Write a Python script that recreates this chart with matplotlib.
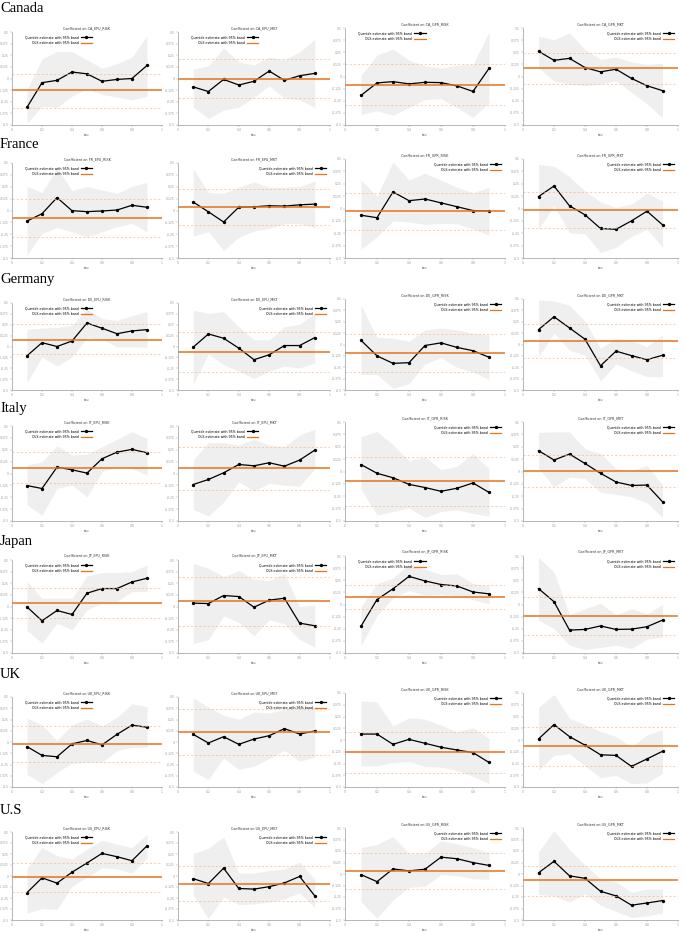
import numpy as np
import matplotlib.pyplot as plt

TAU = [0.1, 0.2, 0.3, 0.4, 0.5, 0.6, 0.7, 0.8, 0.9]
COUNTRIES = ["Canada", "France", "Germany", "Italy", "Japan", "UK", "U.S"]
CODES = ["CA", "FR", "DE", "IT", "JP", "UK", "US"]
REGRESSORS = ["EPU_RISK", "EPU_MKT", "GPR_RISK", "GPR_MKT"]

# quantile estimates, upper / lower 95% band, OLS (estimate, upper, lower)
CANADA_Q = [[-0.31, -0.045, -0.02, 0.07, 0.05, -0.03, -0.01, 0.0, 0.14],
            [-0.09, -0.14, -0.01, -0.07, -0.03, 0.08, -0.02, 0.03, 0.055],
            [-0.195, -0.066, -0.053, -0.076, -0.06, -0.063, -0.097, -0.154, 0.083],
            [0.26, 0.167, 0.187, 0.092, 0.048, 0.075, -0.02, -0.095, -0.146]]
CANADA_UP = [[-0.12, 0.21, 0.29, 0.29, 0.20, 0.11, 0.16, 0.23, 0.46],
             [0.10, 0.135, 0.33, 0.18, 0.145, 0.23, 0.20, 0.285, 0.42],
             [0.01, 0.22, 0.286, 0.168, 0.11, 0.086, 0.117, 0.127, 0.456],
             [0.415, 0.38, 0.45, 0.28, 0.177, 0.20, 0.15, 0.126, 0.136]]
CANADA_LO = [[-0.48, -0.30, -0.31, -0.19, -0.11, -0.17, -0.20, -0.23, -0.19],
             [-0.305, -0.43, -0.34, -0.31, -0.20, -0.08, -0.21, -0.23, -0.31],
             [-0.39, -0.354, -0.40, -0.32, -0.236, -0.23, -0.32, -0.422, -0.27],
             [0.09, -0.044, -0.08, -0.095, -0.08, -0.044, -0.163, -0.282, -0.425]]
CANADA_OLS = [(-0.125, 0.05, -0.315), (0.0, 0.21, -0.21), (-0.086, 0.127, -0.297), (0.085, 0.245, -0.08)]

FRANCE_Q = [[-0.111, -0.034, 0.136, -0.002, -0.012, -0.005, 0.005, 0.055, 0.034],
            [0.089, -0.014, -0.121, 0.035, 0.039, 0.05, 0.046, 0.06, 0.067],
            [-0.068, -0.093, 0.168, 0.079, 0.096, 0.057, 0.018, -0.021, -0.025],
            [0.12, 0.227, 0.027, -0.064, -0.202, -0.21, -0.125, -0.027, -0.165]]
FRANCE_UP = [[0.253, 0.19, 0.447, 0.21, 0.253, 0.217, 0.18, 0.253, 0.295],
             [0.44, 0.19, 0.18, 0.245, 0.30, 0.245, 0.245, 0.252, 0.31],
             [0.286, 0.125, 0.47, 0.286, 0.357, 0.286, 0.214, 0.16, 0.214],
             [0.445, 0.427, 0.32, 0.176, 0.067, 0.01, 0.045, 0.155, 0.075]]
FRANCE_LO = [[-0.47, -0.242, -0.18, -0.224, -0.277, -0.224, -0.17, -0.136, -0.224],
             [-0.27, -0.223, -0.422, -0.28, -0.216, -0.188, -0.138, -0.135, -0.18],
             [-0.41, -0.286, -0.125, -0.136, -0.16, -0.15, -0.154, -0.207, -0.268],
             [-0.21, 0.027, -0.245, -0.256, -0.445, -0.391, -0.282, -0.21, -0.391]]
FRANCE_OLS = [(-0.076, 0.118, -0.277), (0.035, 0.227, -0.156), (-0.025, 0.16, -0.214), (-0.016, 0.165, -0.195)]

GERMANY_Q = [[-0.107, 0.044, 0.0, 0.063, 0.27, 0.21, 0.147, 0.179, 0.194],
             [-0.008, 0.144, 0.095, -0.019, -0.152, -0.095, 0.011, 0.011, 0.102],
             [0.046, -0.125, -0.207, -0.2, -0.011, 0.018, -0.032, -0.068, -0.14],
             [0.163, 0.305, 0.182, 0.058, -0.234, -0.073, -0.122, -0.167, -0.118]]
GERMANY_UP = [[0.20, 0.21, 0.22, 0.242, 0.43, 0.32, 0.30, 0.353, 0.40],
              [0.417, 0.38, 0.40, 0.227, 0.076, 0.076, 0.227, 0.254, 0.38],
              [0.43, 0.08, 0.07, 0.036, 0.16, 0.18, 0.16, 0.125, 0.107],
              [0.49, 0.48, 0.43, 0.257, -0.043, 0.07, 0.043, -0.024, 0.107]]
GERMANY_LO = [[-0.413, -0.123, -0.222, -0.123, 0.103, 0.083, -0.004, -0.004, -0.008],
              [-0.436, -0.087, -0.208, -0.284, -0.367, -0.284, -0.227, -0.246, -0.19],
              [-0.329, -0.329, -0.482, -0.429, -0.214, -0.143, -0.25, -0.304, -0.382],
              [-0.137, 0.125, -0.062, -0.118, -0.40, -0.212, -0.287, -0.354, -0.354]]
GERMANY_OLS = [(0.08, 0.254, -0.087), (-0.064, 0.17, -0.295), (-0.093, 0.118, -0.304), (0.043, 0.227, -0.144)]

ITALY_Q = [[-0.127, -0.158, 0.067, 0.039, 0.004, 0.155, 0.225, 0.254, 0.218],
           [-0.116, -0.063, 0.007, 0.095, 0.081, 0.113, 0.077, 0.141, 0.246],
           [0.07, -0.018, -0.063, -0.13, -0.162, -0.20, -0.169, -0.116, -0.211],
           [0.211, 0.116, 0.176, 0.081, -0.018, -0.106, -0.141, -0.137, -0.306]]
ITALY_UP = [[0.088, 0.123, 0.292, 0.194, 0.204, 0.282, 0.359, 0.44, 0.37],
            [0.141, 0.324, 0.324, 0.30, 0.36, 0.30, 0.282, 0.405, 0.465],
            [0.352, 0.405, 0.271, 0.106, 0.148, 0.018, 0.053, 0.183, 0.028],
            [0.394, 0.40, 0.40, 0.229, 0.183, 0.028, 0.007, 0.06, -0.134]]
ITALY_LO = [[-0.327, -0.44, -0.158, -0.123, -0.246, 0.018, 0.07, 0.053, -0.018],
            [-0.377, -0.447, -0.30, -0.088, -0.183, -0.106, -0.123, -0.134, 0.053],
            [-0.176, -0.44, -0.405, -0.37, -0.465, -0.405, -0.387, -0.423, -0.451],
            [0.035, -0.158, -0.056, -0.07, -0.211, -0.229, -0.257, -0.317, -0.465]]
ITALY_OLS = [(0.063, 0.222, -0.095), (0.053, 0.282, -0.169), (-0.095, 0.148, -0.352), (0.007, 0.169, -0.158)]

JAPAN_Q = [[-0.004, -0.154, -0.043, -0.086, 0.143, 0.193, 0.193, 0.264, 0.304],
           [0.036, 0.032, 0.118, 0.107, -0.007, 0.068, 0.089, -0.179, -0.207],
           [-0.224, 0.051, 0.162, 0.29, 0.243, 0.206, 0.191, 0.129, 0.11],
           [0.164, 0.029, -0.264, -0.257, -0.221, -0.257, -0.254, -0.229, -0.161]]
JAPAN_UP = [[0.268, 0.089, 0.089, 0.089, 0.329, 0.364, 0.364, 0.375, 0.446],
            [0.464, 0.411, 0.321, 0.386, 0.293, 0.279, 0.357, 0.0, 0.018],
            [-0.022, 0.217, 0.272, 0.419, 0.364, 0.309, 0.316, 0.217, 0.191],
            [0.486, 0.332, -0.107, -0.043, 0.011, -0.107, -0.043, -0.096, 0.0]]
JAPAN_LO = [[-0.257, -0.393, -0.179, -0.25, -0.036, 0.036, 0.054, 0.161, 0.161],
            [-0.40, -0.357, -0.10, -0.171, -0.314, -0.143, -0.186, -0.357, -0.436],
            [-0.426, -0.114, 0.07, 0.143, 0.096, 0.107, 0.088, 0.051, 0.007],
            [-0.157, -0.25, -0.418, -0.464, -0.443, -0.418, -0.454, -0.357, -0.336]]
JAPAN_OLS = [(0.039, 0.204, -0.125), (0.061, 0.321, -0.207), (0.077, 0.199, -0.048), (-0.118, 0.082, -0.318)]

UK_Q = [[-0.051, -0.149, -0.164, -0.021, 0.017, -0.032, 0.085, 0.187, 0.164],
        [0.085, -0.011, 0.059, -0.026, 0.033, 0.07, 0.148, 0.089, 0.122],
        [0.063, 0.063, -0.046, 0.007, -0.035, -0.077, -0.106, -0.134, -0.239],
        [0.011, 0.164, 0.036, -0.055, -0.157, -0.164, -0.281, -0.201, -0.12]]
UK_UP = [[0.266, 0.19, 0.017, 0.19, 0.255, 0.179, 0.274, 0.425, 0.394],
         [0.489, 0.389, 0.296, 0.252, 0.333, 0.322, 0.363, 0.389, 0.389],
         [0.415, 0.405, 0.148, 0.236, 0.222, 0.158, 0.088, 0.13, 0.018],
         [0.347, 0.485, 0.23, 0.164, 0.091, 0.036, -0.073, 0.055, 0.109]]
UK_LO = [[-0.36, -0.462, -0.338, -0.236, -0.225, -0.225, -0.096, -0.058, -0.058],
         [-0.326, -0.415, -0.178, -0.304, -0.267, -0.185, -0.093, -0.215, -0.167],
         [-0.275, -0.275, -0.239, -0.229, -0.282, -0.289, -0.324, -0.387, -0.465],
         [-0.318, -0.164, -0.146, -0.274, -0.401, -0.376, -0.464, -0.456, -0.354]]
UK_OLS = [(-0.021, 0.175, -0.217), (0.115, 0.37, -0.141), (-0.13, 0.088, -0.352), (-0.066, 0.139, -0.274)]

US_Q = [[-0.189, -0.021, -0.081, 0.043, 0.148, 0.257, 0.219, 0.174, 0.343],
        [-0.03, -0.086, 0.089, -0.142, -0.149, -0.121, -0.079, -0.005, -0.226],
        [-0.007, -0.083, 0.055, 0.034, 0.052, 0.183, 0.166, 0.124, 0.093],
        [0.013, 0.138, -0.02, -0.047, -0.188, -0.238, -0.339, -0.315, -0.289]]
US_UP = [[0.081, 0.324, 0.23, 0.193, 0.305, 0.406, 0.361, 0.324, 0.474],
         [0.254, 0.314, 0.447, 0.033, 0.033, 0.061, 0.079, 0.16, -0.037],
         [0.286, 0.321, 0.407, 0.224, 0.224, 0.362, 0.328, 0.286, 0.234],
         [0.238, 0.473, 0.265, 0.097, -0.054, -0.087, -0.198, -0.164, -0.164]]
US_LO = [[-0.425, -0.369, -0.38, -0.118, -0.013, 0.092, 0.081, 0.032, 0.204],
         [-0.219, -0.482, -0.237, -0.325, -0.318, -0.296, -0.261, -0.191, -0.36],
         [-0.30, -0.479, -0.283, -0.145, -0.134, -0.007, -0.017, -0.052, -0.059],
         [-0.221, -0.238, -0.305, -0.215, -0.339, -0.406, -0.473, -0.456, -0.423]]
US_OLS = [(-0.013, 0.152, -0.182), (-0.086, 0.114, -0.279), (0.034, 0.224, -0.162), (-0.07, 0.091, -0.238)]

ALL_Q = [CANADA_Q, FRANCE_Q, GERMANY_Q, ITALY_Q, JAPAN_Q, UK_Q, US_Q]
ALL_UP = [CANADA_UP, FRANCE_UP, GERMANY_UP, ITALY_UP, JAPAN_UP, UK_UP, US_UP]
ALL_LO = [CANADA_LO, FRANCE_LO, GERMANY_LO, ITALY_LO, JAPAN_LO, UK_LO, US_LO]
ALL_OLS = [CANADA_OLS, FRANCE_OLS, GERMANY_OLS, ITALY_OLS, JAPAN_OLS, UK_OLS, US_OLS]

# legend side per panel
LEG = [["L", "L", "L", "R"], ["L", "R", "R", "R"], ["L", "R", "R", "R"], ["L", "L", "R", "R"],
       ["L", "R", "L", "R"], ["L", "R", "R", "R"], ["L", "R", "R", "R"]]

W, H = 685, 933
COL_X = [(12, 162), (178, 330), (345, 505), (523, 678)]
ROW_Y = [(32, 125), (163, 258), (303, 390), (426, 521), (560, 653), (697, 787), (832, 920)]
LABEL_Y = [9, 145, 279, 408, 542, 675, 810]

ORANGE = "#e8731c"
GREY = "#9a9a9a"

fig = plt.figure(figsize=(W / 100, H / 100), dpi=100)

for r, country in enumerate(COUNTRIES):
    fig.text(0.0, 1 - LABEL_Y[r] / H, country, family="Liberation Serif",
             fontsize=10.5, va="center", ha="left")
    top, bot = ROW_Y[r]
    for c in range(4):
        x0, x1 = COL_X[c]
        t = top - 4 if c >= 2 else top
        ax = fig.add_axes([x0 / W, 1 - bot / H, (x1 - x0) / W, (bot - t) / H])
        q = ALL_Q[r][c]
        ols, ols_hi, ols_lo = ALL_OLS[r][c]
        ax.fill_between(TAU, ALL_LO[r][c], ALL_UP[r][c], color="#efefef", lw=0)
        ax.plot(TAU, q, color="black", lw=0.9, marker="o", ms=1.4,
                label="Quantile estimate with 95% band")
        ax.axhline(ols, color=ORANGE, lw=1.1, label="OLS estimate with 95% band")
        ax.axhline(ols_hi, color="#f5b98c", lw=0.5, ls=(0, (3, 3)))
        ax.axhline(ols_lo, color="#f5b98c", lw=0.5, ls=(0, (3, 3)))
        ax.set_xlim(0, 1)
        ax.set_ylim(-0.5, 0.5)
        ax.set_xticks([0, 0.2, 0.4, 0.6, 0.8, 1])
        ax.set_xticklabels(["0", "0.2", "0.4", "0.6", "0.8", "1"])
        ax.set_yticks(np.linspace(-0.5, 0.5, 9))
        ax.set_yticklabels(["%g" % v for v in np.linspace(-0.5, 0.5, 9)])
        ax.tick_params(labelsize=2.2, length=1.2, width=0.3, colors=GREY, pad=1)
        for s in ["top", "right"]:
            ax.spines[s].set_visible(False)
        for s in ["left", "bottom"]:
            ax.spines[s].set_color(GREY)
            ax.spines[s].set_linewidth(0.5)
        ax.set_xlabel("tau", fontsize=2.4, color="#555555", labelpad=0.5)
        ax.set_title("Coefficient on %s_%s" % (CODES[r], REGRESSORS[c]),
                     fontsize=2.4, pad=2, color="#333333")
        if LEG[r][c] == "L":
            loc, anchor = "upper left", (0.06, 1.0)
        else:
            loc, anchor = "upper right", (1.0, 1.0)
        leg = ax.legend(loc=loc, bbox_to_anchor=anchor, prop={"size": 2.3},
                        markerfirst=False, frameon=False, handlelength=3.5,
                        handletextpad=0.8, labelspacing=0.5, borderpad=0.6)
        for h in leg.legend_handles:
            h.set_linewidth(0.9)

plt.savefig("out.png", dpi=100)
